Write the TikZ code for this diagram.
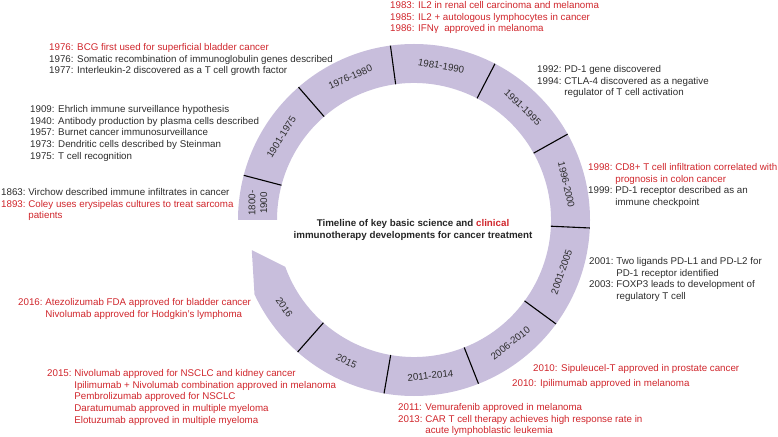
\documentclass[tikz,border=0pt]{standalone}
\usepackage{fontspec}
\setmainfont{Liberation Sans}
\usepackage{xcolor}
\usetikzlibrary{calc}
\definecolor{ringfill}{RGB}{200,190,220}
\definecolor{clinred}{RGB}{208,38,44}
\definecolor{basicgray}{RGB}{45,45,45}
\newcommand{\evfont}{\fontsize{9.8}{11.7}\selectfont}

\begin{document}
\begin{tikzpicture}[x=1bp, y=1bp,
  event/.style={anchor=base west, inner sep=0pt, font=\evfont, text=basicgray},
  clin/.style={event, text=clinred},
  era/.style={inner sep=0pt, font=\evfont, text=basicgray, align=center},
  divider/.style={line width=1.1bp, black}]
  \useasboundingbox (0,-437) rectangle (778,0);
  \coordinate (C) at (414,-220);
  \def\rin{137}
  \def\rout{176}
  \def\rmid{156.5}

  \fill[ringfill] ($(C)+(180:\rout)$) arc[start angle=180, end angle=-155, radius=\rout]
    -- ($(C)+(-169.5:165)$) -- ($(C)+(-160:\rin)$)
    arc[start angle=-160, end angle=180, radius=\rin] -- cycle;

  \foreach \a in {165.3,131,97.7,62.6,29.2,-2.6,-36.2,-68.5,-99.8,-131.4}
    \draw[divider] ($(C)+(\a:\rin)$) -- ($(C)+(\a:\rout)$);

  \node[era, rotate=90] (e1800) at ($(C)+(173.8:157)$) {1800-\\1900};
  \foreach \a/\txt/\nm in {148/1901-1975/e1901, 114/1976-1980/e1976, 80/1981-1990/e1981,
      46/1991-1995/e1991, 13/1996-2000/e1996}
    \node[era, rotate=\a-90] (\nm) at ($(C)+(\a:\rmid)$) {\txt};
  \foreach \a/\txt/\nm in {-19.4/2001-2005/e2001, -52/2006-2010/e2006, -84/2011-2014/e2011,
      -115.6/2015/e2015, -146/2016/e2016}
    \node[era, rotate=\a+90] (\nm) at ($(C)+(\a:\rmid)$) {\txt};

  \node[align=center, inner sep=0pt, text=black!85, font=\fontsize{9.8}{12}\selectfont\bfseries]
    (title) at (413,-230) {Timeline of key basic science and {\color{clinred}clinical}\\
    immunotherapy developments for cancer treatment};

  \node[clin] (n1983) at (390,-8.5) {\begin{tabular}[t]{@{}l@{}}
    1983: IL2 in renal cell carcinoma and melanoma\\
    1985: IL2 + autologous lymphocytes in cancer\\
    1986: IFNγ\ \ approved in melanoma\end{tabular}};
  \node[event] (n1976) at (49,-50.5) {\begin{tabular}[t]{@{}l@{}}
    \color{clinred}1976: BCG first used for superficial bladder cancer\\
    1976: Somatic recombination of immunoglobulin genes described\\
    1977: Interleukin-2 discovered as a T cell growth factor\end{tabular}};
  \node[event] (n1909) at (30,-112.5) {\begin{tabular}[t]{@{}l@{}}
    1909: Ehrlich immune surveillance hypothesis\\
    1940: Antibody production by plasma cells described\\
    1957: Burnet cancer immunosurveillance\\
    1973: Dendritic cells described by Steinman\\
    1975: T cell recognition\end{tabular}};
  \node[event] (n1863) at (1,-195.5) {\begin{tabular}[t]{@{}l@{\ }l@{}}
    1863: & Virchow described immune infiltrates in cancer\\
    \color{clinred}1893: & \color{clinred}Coley uses erysipelas cultures to treat sarcoma\\
    & \color{clinred}patients\end{tabular}};
  \node[event] (n1992) at (537,-72.5) {\begin{tabular}[t]{@{}l@{\ }l@{}}
    1992: & PD-1 gene discovered\\
    1994: & CTLA-4 discovered as a negative\\
    & regulator of T cell activation\end{tabular}};
  \node[event] (n1998) at (588,-170.5) {\begin{tabular}[t]{@{}l@{\ }l@{}}
    \color{clinred}1998: & \color{clinred}CD8+ T cell infiltration correlated with\\
    & \color{clinred}prognosis in colon cancer\\
    1999: & PD-1 receptor described as an\\
    & immune checkpoint\end{tabular}};
  \node[event] (n2001) at (589,-264.5) {\begin{tabular}[t]{@{}l@{\ }l@{}}
    2001: & Two ligands PD-L1 and PD-L2 for\\
    & PD-1 receptor identified\\
    2003: & FOXP3 leads to development of\\
    & regulatory T cell\end{tabular}};
  \node[clin] (n2010a) at (533,-371.5) {2010: Sipuleucel-T approved in prostate cancer};
  \node[clin] (n2010b) at (512,-386.5) {2010: Ipilimumab approved in melanoma};
  \node[clin] (n2011) at (398,-410.5) {\begin{tabular}[t]{@{}l@{\ }l@{}}
    2011: & Vemurafenib approved in melanoma\\
    2013: & CAR T cell therapy achieves high response rate in\\
    & acute lymphoblastic leukemia\end{tabular}};
  \node[clin] (n2016) at (18,-305.5) {\begin{tabular}[t]{@{}l@{\ }l@{}}
    2016: & Atezolizumab FDA approved for bladder cancer\\
    & Nivolumab approved for Hodgkin's lymphoma\end{tabular}};
  \node[clin] (n2015) at (47,-376.5) {\begin{tabular}[t]{@{}l@{\ }l@{}}
    2015: & Nivolumab approved for NSCLC and kidney cancer\\
    & Ipilimumab + Nivolumab combination approved in melanoma\\
    & Pembrolizumab approved for NSCLC\\
    & Daratumumab approved in multiple myeloma\\
    & Elotuzumab approved in multiple myeloma\end{tabular}};
\end{tikzpicture}
\end{document}
